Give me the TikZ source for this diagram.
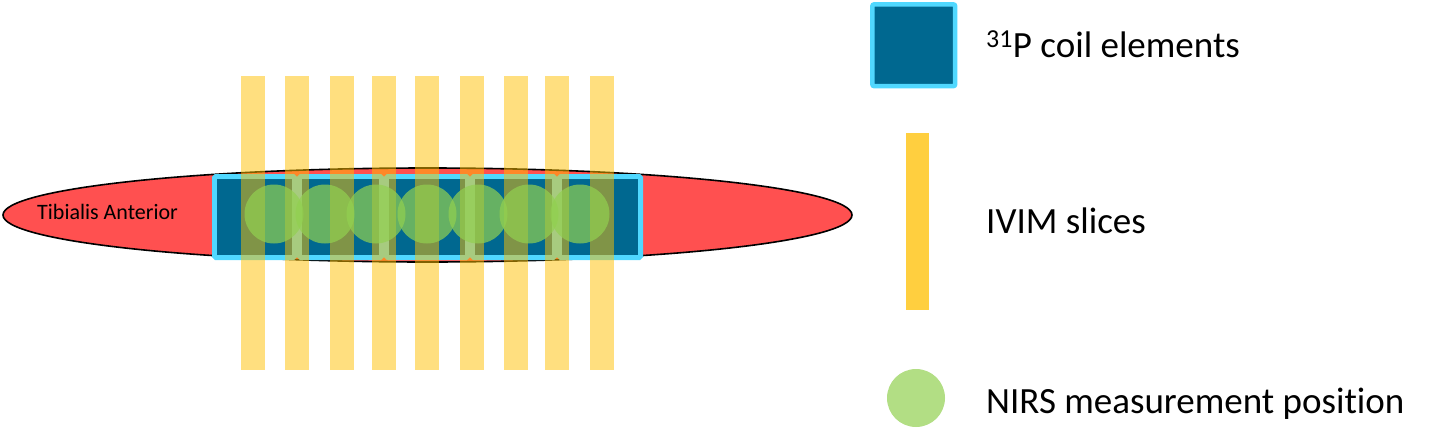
\documentclass[tikz,border=0pt]{standalone}
\usepackage{fontspec}
\setmainfont{Carlito}[Ligatures={NoCommon,NoContextual}]
\definecolor{musclered}{HTML}{FF5050}
\definecolor{coilblue}{HTML}{006890}
\definecolor{coilcyan}{HTML}{50D8FF}
\definecolor{sliceyellow}{HTML}{FFC000}
\definecolor{legyellow}{HTML}{FFCF3F}
\definecolor{nirsgreen}{HTML}{92D050}
\tikzset{
  coilel/.style={fill=coilblue, draw=coilcyan, line width=4.8pt, rounded corners=1.5pt},
  slicebar/.style={fill=sliceyellow, fill opacity=0.5, draw=none},
  nirs/.style={fill=nirsgreen, fill opacity=0.7, draw=none},
  legtext/.style={anchor=base west, inner sep=0pt, font=\fontsize{37}{40}\selectfont}
}
\begin{document}
\begin{tikzpicture}[x=1pt,y=-1pt]
\useasboundingbox (0,0) rectangle (1437,431);
% muscle
\draw[fill=musclered, line width=1.6pt] (427.5,215) ellipse [x radius=424.5, y radius=47];
\node[anchor=base west, inner sep=0pt, font=\fontsize{22}{24}\selectfont] (ta) at (37,219) {Tibialis Anterior};
% coil elements
\foreach \a/\b in {212/297, 297/384, 384/470, 470/557, 557/643}
  \draw[coilel] (\a+2.4,176.4) rectangle (\b-2.4,257.6);
% IVIM slices
\foreach \x in {241,285,330,372,415,460,504,545,590}
  \fill[slicebar] (\x,76) rectangle (\x+24,370);
% NIRS positions
\foreach \c in {274,325,376,427,478,529,580}
  \fill[nirs] (\c,214) circle [radius=29.5];
% legend
\draw[coilel, line width=4.5pt, rounded corners=2pt] (872.3,4.3) rectangle (955.2,86.2);
\node[legtext] (lcoil) at (986,57) {\textsuperscript{31}P coil elements};
\fill[legyellow] (906,133) rectangle (929,310);
\node[legtext] (lslice) at (986,233) {IVIM slices};
\fill[nirsgreen, fill opacity=0.7] (916,398) circle [radius=29];
\node[legtext] (lnirs) at (986,413) {NIRS measurement position};
\end{tikzpicture}
\end{document}
